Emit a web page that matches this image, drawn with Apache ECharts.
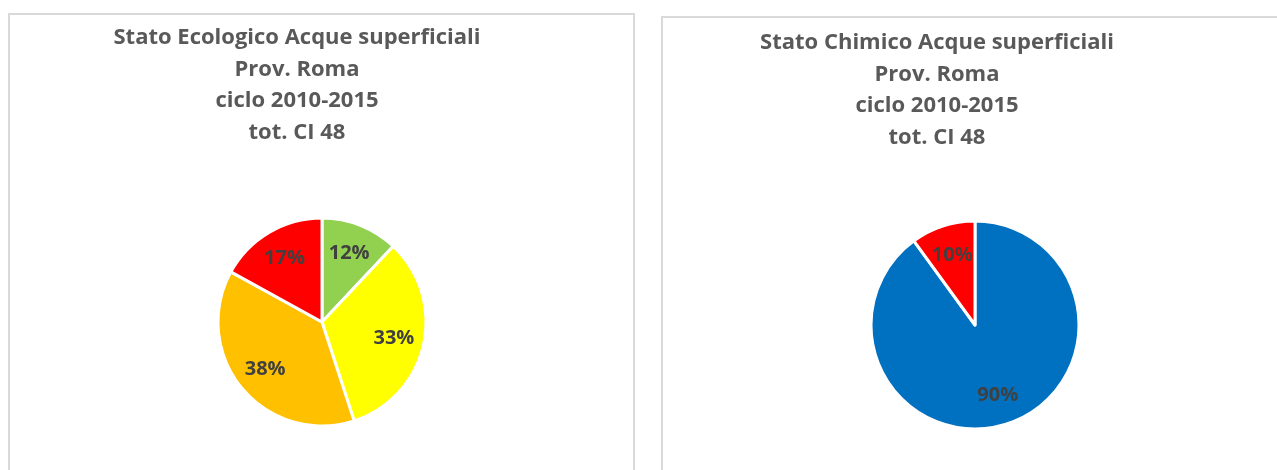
<!DOCTYPE html>
<html>
<head>
<meta charset="utf-8">
<script src="https://cdn.jsdelivr.net/npm/echarts@6/dist/echarts.min.js"></script>
<style>
  html, body { margin: 0; padding: 0; background: #fff; }
  #chart { width: 1277px; height: 470px; }
</style>
</head>
<body>
<div id="chart"></div>
<script>
// Stato ecologico (percentuali dei corpi idrici)
const ecoCategories = ['Buono', 'Sufficiente', 'Scarso', 'Cattivo'];
const ecoValues = [12, 33, 38, 17];
const ecoColors = ['#92D050', '#FFFF00', '#FFC000', '#FF0000'];

// Stato chimico
const chemCategories = ['Buono', 'Non buono'];
const chemValues = [90, 10];
const chemColors = ['#0070C0', '#FF0000'];

const ecoTitle = 'Stato Ecologico Acque superficiali\nProv. Roma\nciclo 2010-2015\ntot. CI 48';
const chemTitle = 'Stato Chimico Acque superficiali\nProv. Roma\nciclo 2010-2015\ntot. CI 48';

const FONT = 'Open Sans';
const R = 104;

function toData(cats, vals, cols) {
  return cats.map((c, i) => ({ name: c, value: vals[i], itemStyle: { color: cols[i] } }));
}

// A filled pie without labels plus a transparent ring carrying the labels,
// so the percentages sit at about 68% of the radius.
function pieLayers(center, cats, vals, cols) {
  return [
    {
      type: 'pie',
      center: center,
      radius: R,
      startAngle: 90,
      clockwise: true,
      silent: true,
      animation: false,
      data: toData(cats, vals, cols),
      itemStyle: { borderColor: '#fff', borderWidth: 3 },
      label: { show: false },
      labelLine: { show: false }
    },
    {
      type: 'pie',
      center: center,
      radius: [R * 0.36, R],
      startAngle: 90,
      clockwise: true,
      silent: true,
      animation: false,
      data: cats.map((c, i) => ({ name: c, value: vals[i] })),
      itemStyle: { color: 'transparent', borderWidth: 0 },
      label: {
        show: true,
        position: 'inside',
        formatter: p => p.value + '%',
        color: '#404040',
        fontFamily: FONT,
        fontWeight: 'bold',
        fontSize: 20
      },
      labelLine: { show: false }
    }
  ];
}

const titleStyle = { fontFamily: FONT, fontWeight: 'bold', fontSize: 22, color: '#595959', lineHeight: 31.5 };

const chart = echarts.init(document.getElementById('chart'), null, { renderer: 'canvas' });
chart.setOption({
  backgroundColor: '#ffffff',
  animation: false,
  graphic: [
    { type: 'rect', shape: { x: 9, y: 14, width: 625, height: 470 },
      style: { fill: 'none', stroke: '#d9d9d9', lineWidth: 2 }, silent: true },
    { type: 'rect', shape: { x: 662, y: 17, width: 640, height: 470 },
      style: { fill: 'none', stroke: '#d9d9d9', lineWidth: 2 }, silent: true }
  ],
  title: [
    { text: ecoTitle, left: 292, top: 17, textAlign: 'center', textStyle: titleStyle },
    { text: chemTitle, left: 932, top: 22, textAlign: 'center', textStyle: titleStyle }
  ],
  series: [
    ...pieLayers([322, 322], ecoCategories, ecoValues, ecoColors),
    ...pieLayers([975, 325], chemCategories, chemValues, chemColors)
  ]
});
</script>
</body>
</html>
